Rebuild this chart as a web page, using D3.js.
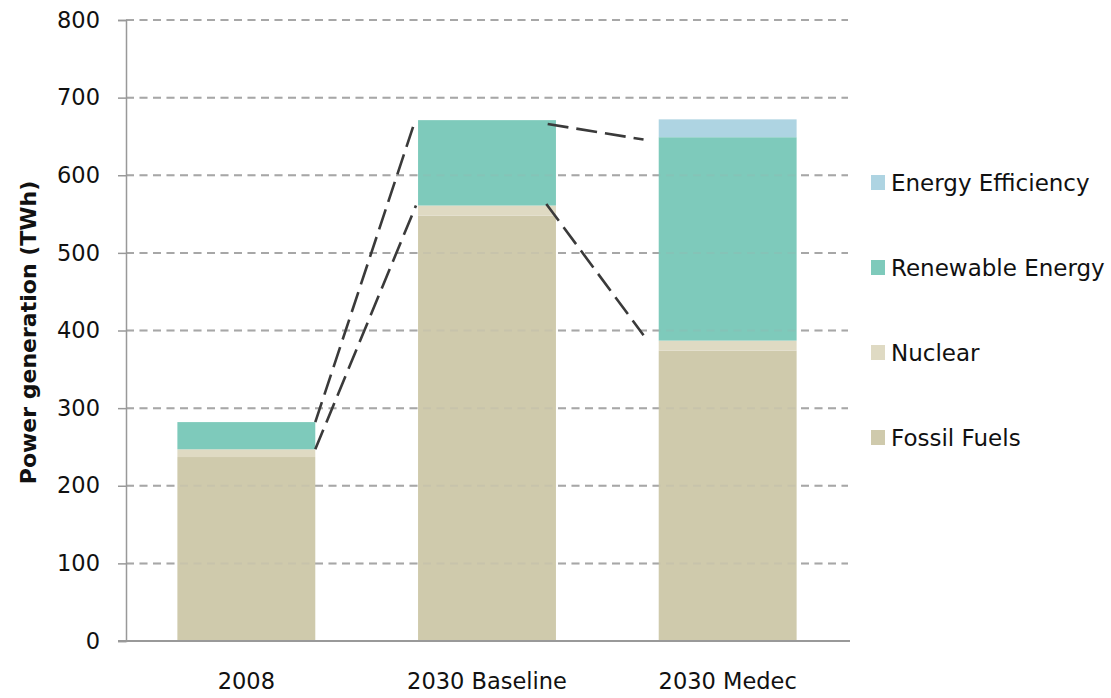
<!DOCTYPE html>
<html>
<head>
<meta charset="utf-8">
<script src="https://cdn.jsdelivr.net/npm/d3@7/dist/d3.min.js"></script>
<style>
  body { margin: 0; background: #fff; }
  svg { display: block; }
  text { font-family: "DejaVu Sans", sans-serif; fill: #111; }
</style>
</head>
<body>
<svg id="chart" width="1111" height="698"></svg>
<script>
// Power generation by source (TWh)
const categories = ["2008", "2030 Baseline", "2030 Medec"];
const fossilFuels = [237, 548, 374];
const nuclear = [10, 13, 13];
const renewableEnergy = [35, 110, 262];
const energyEfficiency = [0, 0, 23];
const yTicks = [0, 100, 200, 300, 400, 500, 600, 700, 800];

const seriesNames = ["Fossil Fuels", "Nuclear", "Renewable Energy", "Energy Efficiency"];
const seriesColors = ["#cfcaac", "#dfdac3", "#7ecabb", "#aed4e2"];

// Dashed guide lines between bars: [from category index, value] -> [to category index, value]
const guideFrom = [[0, 282], [0, 247], [1, 666], [1, 563]];
const guideTo   = [[1, 671], [1, 561], [2, 646], [2, 394]];

const svg = d3.select("#chart");
const plot = { left: 126, right: 848, top: 20, bottom: 641 };

const x = d3.scaleBand().domain(categories).range([plot.left, plot.right])
  .paddingInner(0.427).paddingOuter(0.2135);
const y = d3.scaleLinear().domain([0, 800]).range([plot.bottom, plot.top]);

// stacked table
const rows = categories.map((c, i) => ({
  category: c,
  "Fossil Fuels": fossilFuels[i],
  "Nuclear": nuclear[i],
  "Renewable Energy": renewableEnergy[i],
  "Energy Efficiency": energyEfficiency[i]
}));
const stacked = d3.stack().keys(seriesNames)(rows);
const color = d3.scaleOrdinal().domain(seriesNames).range(seriesColors);

function gridlines(g, opacity) {
  g.selectAll("line")
    .data(yTicks.filter(t => t > 0))
    .join("line")
    .attr("x1", plot.left).attr("x2", plot.right)
    .attr("y1", d => y(d)).attr("y2", d => y(d))
    .attr("stroke", "#a8a8a8").attr("stroke-width", 2)
    .attr("stroke-opacity", opacity)
    .attr("stroke-dasharray", "8,5.5");
}

// horizontal dashed gridlines
svg.append("g").call(gridlines, 1);

// bars
svg.append("g").selectAll("g")
  .data(stacked)
  .join("g")
  .attr("fill", d => color(d.key))
  .selectAll("rect")
  .data(d => d.filter(s => s[1] - s[0] > 0))
  .join("rect")
  .attr("x", d => x(d.data.category))
  .attr("width", x.bandwidth())
  .attr("y", d => y(d[1]))
  .attr("height", d => y(d[0]) - y(d[1]));

// faint gridlines showing through the bars
svg.append("g").call(gridlines, 0.18);

// y axis
const yAxis = d3.axisLeft(y).tickValues(yTicks).tickSize(8).tickPadding(18);
const gy = svg.append("g").attr("transform", `translate(${plot.left},0)`).call(yAxis);
gy.select(".domain").attr("stroke", "#999").attr("stroke-width", 1.5);
gy.selectAll(".tick line").attr("stroke", "#999").attr("stroke-width", 1.5);
gy.selectAll(".tick text")
  .attr("font-size", 22.5).attr("font-family", "DejaVu Sans, sans-serif").attr("fill", "#111");

// x axis
const xAxis = d3.axisBottom(x).tickSize(0).tickPadding(32);
const gx = svg.append("g").attr("transform", `translate(0,${plot.bottom})`).call(xAxis);
gx.select(".domain").remove();
gx.selectAll(".tick text")
  .attr("font-size", 22.5).attr("font-family", "DejaVu Sans, sans-serif").attr("fill", "#111");
svg.append("line")
  .attr("x1", plot.left - 8).attr("x2", plot.right + 2)
  .attr("y1", plot.bottom).attr("y2", plot.bottom)
  .attr("stroke", "#999").attr("stroke-width", 2);

// dashed guide lines
const anchorOut = [1.0, 1.0, 0.94, 0.93];       // fraction of bar width at the start bar
const anchorIn = [-0.02, -0.015, -0.11, -0.11]; // fraction of bar width at the end bar
svg.append("g").selectAll("line")
  .data(guideFrom.map((f, i) => ({ f, t: guideTo[i], i })))
  .join("line")
  .attr("x1", d => x(categories[d.f[0]]) + x.bandwidth() * anchorOut[d.i])
  .attr("y1", d => y(d.f[1]))
  .attr("x2", d => x(categories[d.t[0]]) + x.bandwidth() * anchorIn[d.i])
  .attr("y2", d => y(d.t[1]))
  .attr("stroke", "#3a3a3a").attr("stroke-width", 2.6)
  .attr("stroke-dasharray", "21,8");

// y axis title
svg.append("text")
  .attr("transform", `translate(36,${(plot.top + plot.bottom) / 2 + 2}) rotate(-90)`)
  .attr("text-anchor", "middle")
  .attr("font-size", 22).attr("font-weight", "bold")
  .text("Power generation (TWh)");

// legend, top entry first
const legendItems = seriesNames.slice().reverse();
const lg = svg.append("g").attr("transform", "translate(871,183)");
const li = lg.selectAll("g").data(legendItems).join("g")
  .attr("transform", (d, i) => `translate(0,${i * 85})`);
li.append("rect").attr("x", 0).attr("y", -8).attr("width", 14).attr("height", 15)
  .attr("fill", d => color(d));
li.append("text").attr("x", 20).attr("y", 0).attr("dy", "0.36em")
  .attr("font-size", 23).text(d => d);
</script>
</body>
</html>
